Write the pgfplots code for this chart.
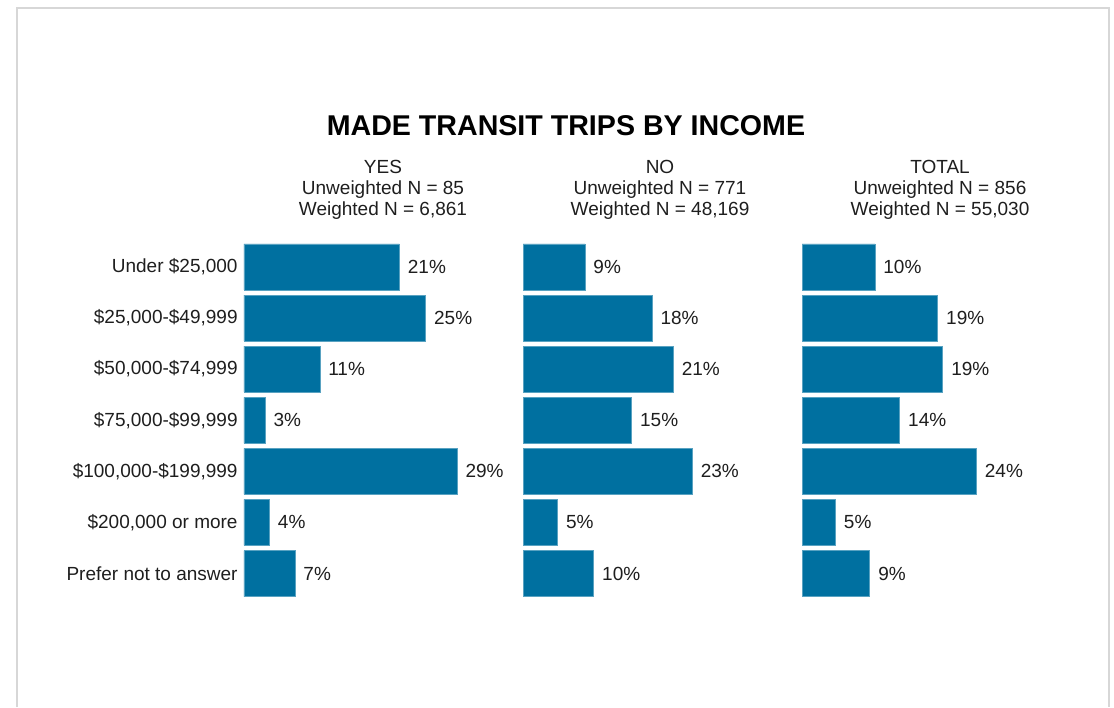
\documentclass[border=0pt]{standalone}
\usepackage{pgfplots}
\pgfplotsset{compat=1.18}
\usepackage{pgfplotstable}
\usepackage{fontspec}
\setmainfont{Liberation Sans}

\definecolor{barblue}{RGB}{0,112,160}
\definecolor{txt}{RGB}{30,30,30}
\definecolor{frame}{RGB}{215,215,215}

% income shares (%) by transit use: bar length and printed label
\pgfplotstableread{
cat yes yeslab no nolab total totlab
0 21.3 21 8.5 9 10.0 10
1 24.9 25 17.7 18 18.6 19
2 10.4 11 20.6 21 19.3 19
3 2.9 3 14.9 15 13.4 14
4 29.2 29 23.2 23 23.9 24
5 3.5 4 4.75 5 4.6 5
6 7.0 7 9.7 10 9.3 9
}\income

\pgfplotsset{
  panel/.style={
    xbar, scale only axis, width=127.75pt, height=178.85pt,
    xmin=0, xmax=35, ymin=-0.5, ymax=6.5, y dir=reverse,
    bar width=23pt, bar shift=0pt,
    axis line style={draw=none}, xtick=\empty, ytick=\empty,
    major tick length=0pt, clip=false, anchor=north west,
    point meta=explicit symbolic,
    nodes near coords={\pgfplotspointmeta\%},
    every node near coord/.append style={anchor=west, inner sep=0pt,
      xshift=4pt, font=\fontsize{9.5}{11}\selectfont, text=txt},
  },
  bars/.style={fill=barblue, draw=barblue!65!white, line width=0.4pt},
}

\begin{document}
\begin{tikzpicture}
\draw[frame, line width=1pt] (8.5pt,-353.5pt) -- (8.5pt,-4pt) -- (554.5pt,-4pt) -- (554.5pt,-353.5pt);

\node[font=\fontsize{14.3}{16}\selectfont\bfseries] at (283pt,-63pt) {MADE TRANSIT TRIPS BY INCOME};

\begin{axis}[panel, at={(122pt,-120.7pt)},
    ytick={0,...,6},
    yticklabels={{Under \$25,000}, {\$25,000-\$49,999}, {\$50,000-\$74,999}, {\$75,000-\$99,999},
      {\$100,000-\$199,999}, {\$200,000 or more}, {Prefer not to answer}},
    yticklabel style={inner sep=0pt, xshift=-3pt, font=\fontsize{9.5}{11}\selectfont, text=txt}]
\addplot[bars] table[x=yes, y=cat, meta=yeslab] {\income};
\end{axis}

\begin{axis}[panel, at={(261.5pt,-120.7pt)}]
\addplot[bars] table[x=no, y=cat, meta=nolab] {\income};
\end{axis}

\begin{axis}[panel, at={(401pt,-120.7pt)}]
\addplot[bars] table[x=total, y=cat, meta=totlab] {\income};
\end{axis}

\begin{scope}[every node/.style={align=center, text=txt, font=\fontsize{9.5}{10.5}\selectfont}]
\node at (191.5pt,-95pt) {YES\\Unweighted N = 85\\Weighted N = 6,861};
\node at (330pt,-95pt) {NO\\Unweighted N = 771\\Weighted N = 48,169};
\node at (470pt,-95pt) {TOTAL\\Unweighted N = 856\\Weighted N = 55,030};
\end{scope}

\pgfresetboundingbox
\useasboundingbox (0,0) rectangle (557pt,-353.5pt);
\end{tikzpicture}
\end{document}
